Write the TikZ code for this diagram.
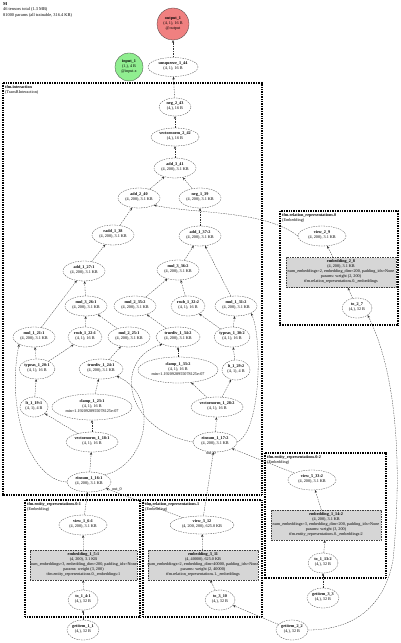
\documentclass[tikz,border=0pt]{standalone}
\usepackage{fontspec}
\setmainfont{Liberation Serif}
\usetikzlibrary{shapes.geometric,arrows.meta}
\definecolor{outred}{RGB}{240,128,128}
\definecolor{ingreen}{RGB}{144,238,144}
\definecolor{embgray}{RGB}{214,214,214}
\newcommand{\nd}[2]{\raisebox{-1bp}{\smash{\makebox[0pt]{\begin{tabular}{@{}c@{}}\textbf{#1}\\#2\end{tabular}}}}}
\begin{document}
\begin{tikzpicture}[x=1bp,y=-1bp,
  every node/.style={font=\fontsize{4.2}{5.1}\selectfont},
  tn/.style={ellipse, draw=black!75, line width=0.3bp, dash pattern=on 1.5bp off 1bp, inner sep=0pt, minimum width=42bp, minimum height=20bp},
  emb/.style={rectangle, draw=black!75, fill=embgray, line width=0.3bp, dash pattern=on 1.5bp off 1bp, inner sep=0pt, minimum width=110bp, minimum height=30bp},
  conn/.style={-{Stealth[length=2.8bp,width=2.3bp]}, draw=black!80, line width=0.3bp, dash pattern=on 1.5bp off 1bp},
  modbox/.style={draw, line width=1.6bp, dash pattern=on 1bp off 0.7bp},
  modlab/.style={anchor=north west, align=left, inner sep=0pt},
  elab/.style={inner sep=0pt}
]
\useasboundingbox (0,0) rectangle (400,643);

% title
\node[modlab, font=\fontsize{4.4}{5.8}\selectfont] (title) at (3,2) {\textbf{M}\\46 tensors total (1.3 MB)\\81000 params (all trainable, 316.4 KB)};

% module boxes
\draw[modbox] (3,83) rectangle (262,495);
\node[modlab] (lint) at (5,85) {\textbf{tfm.interaction}\\(TransRInteraction)};
\draw[modbox] (280,211) rectangle (398,325);
\node[modlab] (lrel0) at (282,213) {\textbf{tfm.relation\_representations.0}\\(Embedding)};
\draw[modbox] (265,453) rectangle (386,578);
\node[modlab] (lent2) at (267,455) {\textbf{tfm.entity\_representations.0:2}\\(Embedding)};
\draw[modbox] (25,500) rectangle (140,617);
\node[modlab] (lent1) at (27,502) {\textbf{tfm.entity\_representations.0:1}\\(Embedding)};
\draw[modbox] (143,500) rectangle (262,617);
\node[modlab] (lrel1) at (145,502) {\textbf{tfm.relation\_representations.1}\\(Embedding)};

% top nodes
\node[tn, solid, fill=outred, minimum width=32bp, minimum height=32bp] (out1) at (173,24) {\nd{output\_1}{(4, 1), 16 B\\@output}};
\node[tn, solid, fill=ingreen, minimum width=28bp, minimum height=28bp] (in1) at (129,67) {\nd{input\_1}{(1,), 4 B\\@input.x}};
\node[tn, minimum width=50bp, minimum height=19bp] (unsq) at (173,67) {\nd{unsqueeze\_1\_44}{(4, 1), 16 B}};

% interaction
\node[tn, minimum width=32bp, minimum height=18bp] (neg243) at (175,107) {\nd{neg\_2\_43}{(4,), 16 B}};
\node[tn, minimum width=48bp, minimum height=18bp] (vn242) at (175,137) {\nd{vectornorm\_2\_42}{(4,), 16 B}};
\node[tn] (add341) at (175,168) {\nd{add\_3\_41}{(4, 200), 3.1 KB}};
\node[tn] (add240) at (139,198) {\nd{add\_2\_40}{(4, 200), 3.1 KB}};
\node[tn] (neg139) at (200,198) {\nd{neg\_1\_39}{(4, 200), 3.1 KB}};
\node[tn] (radd) at (113,235) {\nd{radd\_1\_38}{(4, 200), 3.1 KB}};
\node[tn] (add137) at (200,236) {\nd{add\_1\_37:2}{(4, 200), 3.1 KB}};
\node[tn] (add127) at (84,271) {\nd{add\_1\_27:1}{(4, 200), 3.1 KB}};
\node[tn] (mul336) at (178,270) {\nd{mul\_3\_36:2}{(4, 200), 3.1 KB}};
\node[tn] (mul326) at (86,306) {\nd{mul\_3\_26:1}{(4, 200), 3.1 KB}};
\node[tn] (mul235) at (135,306) {\nd{mul\_2\_35:2}{(4, 200), 3.1 KB}};
\node[tn, minimum width=34bp] (rsub132) at (188,306) {\nd{rsub\_1\_32:2}{(4, 1), 16 B}};
\node[tn] (mul131) at (236,306) {\nd{mul\_1\_31:2}{(4, 200), 3.1 KB}};
\node[tn] (mul121) at (34,337) {\nd{mul\_1\_21:1}{(4, 200), 3.1 KB}};
\node[tn, minimum width=34bp] (rsub122) at (85,337) {\nd{rsub\_1\_22:1}{(4, 1), 16 B}};
\node[tn] (mul225) at (129,337) {\nd{mul\_2\_25:1}{(4, 200), 3.1 KB}};
\node[tn, minimum width=44bp] (td134) at (178,337) {\nd{truediv\_1\_34:2}{(4, 200), 3.1 KB}};
\node[tn, minimum width=36bp] (ty130) at (232,337) {\nd{typeas\_1\_30:2}{(4, 1), 16 B}};
\node[tn, minimum width=36bp] (ty120) at (37,369) {\nd{typeas\_1\_20:1}{(4, 1), 16 B}};
\node[tn, minimum width=44bp] (td124) at (101,369) {\nd{truediv\_1\_24:1}{(4, 200), 3.1 KB}};
\node[tn, minimum width=80bp, minimum height=26bp] (cl133) at (178,370) {\nd{clamp\_1\_33:2}{(4, 1), 16 B\\min=1.1920928955078125e-07}};
\node[tn, minimum width=28bp] (lt129) at (236,370) {\nd{lt\_1\_29:2}{(4, 1), 4 B}};
\node[tn, minimum width=28bp] (lt119) at (34,407) {\nd{lt\_1\_19:1}{(4, 1), 4 B}};
\node[tn, minimum width=80bp, minimum height=26bp] (cl123) at (92,407) {\nd{clamp\_1\_23:1}{(4, 1), 16 B\\min=1.1920928955078125e-07}};
\node[tn, minimum width=52bp] (vn128) at (217,407) {\nd{vectornorm\_1\_28:2}{(4, 1), 16 B}};
\node[tn, minimum width=52bp] (vn118) at (92,442) {\nd{vectornorm\_1\_18:1}{(4, 1), 16 B}};
\node[tn, minimum width=44bp] (ein2) at (215,442) {\nd{einsum\_1\_17:2}{(4, 200), 3.1 KB}};
\node[tn, minimum width=44bp] (ein1) at (89,482) {\nd{einsum\_1\_16:1}{(4, 200), 3.1 KB}};
\node[elab] (lab1) at (117,489) {out\_0};
\node[elab] (lab2) at (211,453) {out\_0};

% relation representations 0
\node[tn, minimum width=48bp] (v29) at (322,236) {\nd{view\_2\_9}{(4, 200), 3.1 KB}};
\node[emb] (e28) at (341,272.5) {\nd{embedding\_2\_8}{(4, 200), 3.1 KB\\num\_embeddings=2, embedding\_dim=200, padding\_idx=None\\params: weight (2, 200)\\tfm.relation\_representations.0.\_embeddings}};
\node[tn, minimum width=30bp] (t27) at (357,308) {\nd{to\_2\_7}{(4,), 32 B}};

% entity representations 0:2
\node[tn, minimum width=48bp] (v533) at (312,480) {\nd{view\_5\_33:2}{(4, 200), 3.1 KB}};
\node[emb] (e114) at (326,525) {\nd{embedding\_1\_14:2}{(4, 200), 3.1 KB\\num\_embeddings=3, embedding\_dim=200, padding\_idx=None\\params: weight (3, 200)\\tfm.entity\_representations.0.\_embeddings:2}};
\node[tn, minimum width=30bp] (t113) at (323,563) {\nd{to\_1\_13:2}{(4,), 32 B}};
\node[tn, minimum width=32bp] (g33) at (323,598) {\nd{getitem\_3\_3}{(4,), 32 B}};

% entity representations 0:1
\node[tn, minimum width=48bp] (v16) at (83,525) {\nd{view\_1\_6:1}{(4, 200), 3.1 KB}};
\node[emb, minimum width=107bp] (e15) at (83.5,565) {\nd{embedding\_1\_5:1}{(4, 200), 3.1 KB\\num\_embeddings=3, embedding\_dim=200, padding\_idx=None\\params: weight (3, 200)\\tfm.entity\_representations.0.\_embeddings:1}};
\node[tn, minimum width=30bp] (t14) at (83,600) {\nd{to\_1\_4:1}{(4,), 32 B}};
\node[tn, minimum width=32bp] (g11) at (83,630) {\nd{getitem\_1\_1}{(4,), 32 B}};

% relation representations 1
\node[tn, minimum width=64bp, minimum height=18bp] (v312) at (202,525) {\nd{view\_3\_12}{(4, 200, 200), 625.0 KB}};
\node[emb] (e311) at (203,565) {\nd{embedding\_3\_11}{(4, 40000), 625.0 KB\\num\_embeddings=2, embedding\_dim=40000, padding\_idx=None\\params: weight (2, 40000)\\tfm.relation\_representations.1.\_embeddings}};
\node[tn, minimum width=30bp] (t310) at (220,600) {\nd{to\_3\_10}{(4,), 32 B}};
\node[tn, minimum width=32bp] (g22) at (292,630) {\nd{getitem\_2\_2}{(4,), 32 B}};

% straight connectors
\draw[conn] (unsq) -- (out1);
\draw[conn] (neg243) -- (unsq);
\draw[conn] (vn242) -- (neg243);
\draw[conn] (add341) -- (vn242);
\draw[conn] (add240) -- (add341);
\draw[conn] (neg139) -- (add341);
\draw[conn] (radd) -- (add240);
\draw[conn] (add137) -- (neg139);
\draw[conn] (add127) -- (radd);
\draw[conn] (mul336) -- (add137);
\draw[conn] (mul131) -- (add137);
\draw[conn] (mul326) -- (add127);
\draw[conn] (mul121) -- (add127);
\draw[conn] (mul235) -- (mul336);
\draw[conn] (rsub132) -- (mul336);
\draw[conn] (rsub122) -- (mul326);
\draw[conn] (mul225) -- (mul326);
\draw[conn] (td134) -- (mul235);
\draw[conn] (ty130) -- (rsub132);
\draw[conn] (ty130) -- (mul131);
\draw[conn] (td124) -- (mul225);
\draw[conn] (ty120) -- (rsub122);
\draw[conn] (ty120) -- (mul121);
\draw[conn] (cl133) -- (td134);
\draw[conn] (lt129) -- (ty130);
\draw[conn] (cl123) -- (td124);
\draw[conn] (lt119) -- (ty120);
\draw[conn] (vn128) -- (lt129);
\draw[conn] (vn128) -- (cl133);
\draw[conn] (vn118) -- (lt119);
\draw[conn] (vn118) -- (cl123);
\draw[conn] (ein2) -- (vn128);
\draw[conn] (ein1) -- (vn118);
\draw[conn] (v16) -- (ein1);
\draw[conn] (v312) -- (ein1);
\draw[conn] (v312) -- (ein2);
\draw[conn] (v533) -- (ein2);
\draw[conn] (e15) -- (v16);
\draw[conn] (t14) -- (e15);
\draw[conn] (g11) -- (t14);
\draw[conn] (e311) -- (v312);
\draw[conn] (t310) -- (e311);
\draw[conn] (g22) -- (t310);
\draw[conn] (e114) -- (v533);
\draw[conn] (t113) -- (e114);
\draw[conn] (g33) -- (t113);
\draw[conn] (e28) -- (v29);
\draw[conn] (t27) -- (e28);

% curved connectors
\draw[conn] (ein1.west) .. controls (30,480) and (6,410) .. (mul121.south west);
\draw[conn] (ein1.north east) .. controls (148,465) and (160,395) .. (td124.south east);
\draw[conn] (ein2.west) .. controls (125,430) and (112,360) .. (td134.south west);
\draw[conn] (ein2.east) .. controls (262,430) and (262,335) .. (mul131.south east);
\draw[conn] (v29.west) .. controls (265,210) and (195,214) .. (add240.south east);
\coordinate (bend) at (393,560);
\draw[conn] (g22.east) .. controls (355,630) and (385,605) .. (bend) .. controls (401,480) and (400,380) .. (t27.south east);
\end{tikzpicture}
\end{document}
